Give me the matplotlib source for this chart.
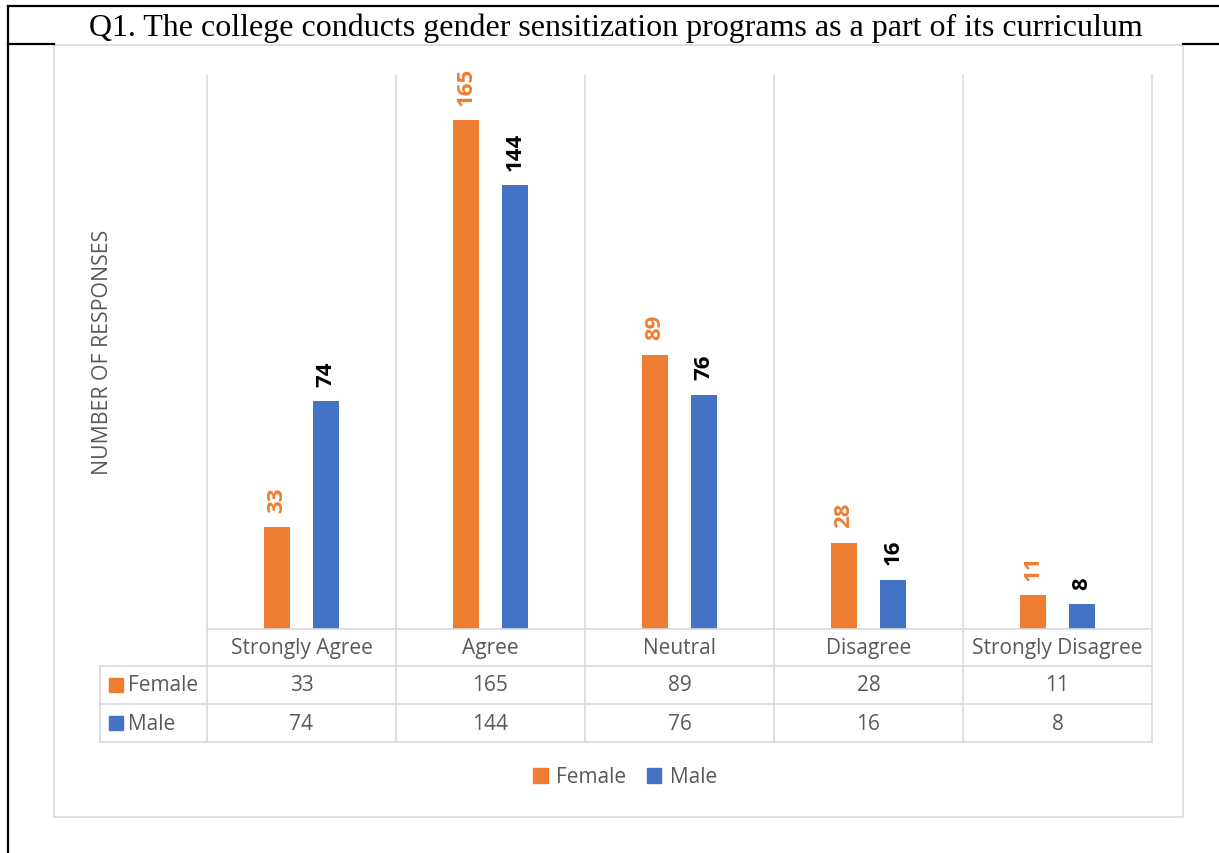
import matplotlib
matplotlib.use('Agg')
import matplotlib.pyplot as plt
from matplotlib.lines import Line2D
from matplotlib.patches import Rectangle, Patch
from matplotlib.transforms import blended_transform_factory
import numpy as np

# --- data ---
categories = ['Strongly Agree', 'Agree', 'Neutral', 'Disagree', 'Strongly Disagree']
series_names = ['Female', 'Male']
female = [33, 165, 89, 28, 11]
male = [74, 144, 76, 16, 8]
title = 'Q1. The college conducts gender sensitization programs as a part of its curriculum'
y_label = 'NUMBER OF RESPONSES'

ORANGE = '#ED7D31'
BLUE = '#4472C4'
GRID = '#D9D9D9'
TEXT = '#595959'

W, H = 1219, 854
plt.rcParams['font.family'] = ['Open Sans', 'DejaVu Sans']

fig = plt.figure(figsize=(W / 100, H / 100), dpi=100)


def fx(px):
    return px / W


def fy(py):
    return 1 - py / H


# outer document frame (table cell lines)
for xs, ys in [((8, W), (7, 7)), ((8, 8), (7, H)), ((8, 54), (45, 45)), ((1183, W), (45, 45))]:
    fig.add_artist(Line2D([fx(v) for v in xs], [fy(v) for v in ys], color='black', lw=1.6))

fig.text(fx(616), fy(28), title, ha='center', va='center', fontsize=23,
         family=['Liberation Serif', 'DejaVu Serif'], color='black')

# chart border
fig.add_artist(Rectangle((fx(54), fy(818)), fx(1183) - fx(54), fy(46) - fy(818),
                         fill=False, edgecolor=GRID, lw=1.2))

# plot area
ax = fig.add_axes([fx(207), fy(630), fx(1152) - fx(207), fy(75) - fy(630)])
x = np.arange(len(categories))
bw = 0.137
off = 0.13
ax.bar(x - off, female, bw, color=ORANGE, zorder=3)
ax.bar(x + off, male, bw, color=BLUE, zorder=3)
ax.set_xlim(-0.5, len(categories) - 0.5)
ax.set_ylim(0, 180)
ax.axis('off')

for xi, v in zip(x, female):
    ax.annotate(str(v), (xi - off, v), xytext=(0, 11), textcoords='offset points',
                rotation=90, ha='center', va='bottom', fontsize=16, fontweight='bold', color=ORANGE)
for xi, v in zip(x, male):
    ax.annotate(str(v), (xi + off, v), xytext=(0, 11), textcoords='offset points',
                rotation=90, ha='center', va='bottom', fontsize=16, fontweight='bold', color='black')

fig.text(fx(103), fy(352), y_label, rotation=90, ha='center', va='center', fontsize=15.3, color=TEXT)

# data table below the plot
tr = blended_transform_factory(ax.transData, fig.transFigure)
row_y = [630, 667, 705, 743]
for b in np.arange(-0.5, len(categories), 1.0):
    fig.add_artist(Line2D([b, b], [fy(76), fy(743)], transform=tr, color=GRID, lw=1.2))
fig.add_artist(Line2D([fx(100), fx(100)], [fy(667), fy(743)], color=GRID, lw=1.2))
fig.add_artist(Line2D([fx(207), fx(1152)], [fy(630), fy(630)], color=GRID, lw=1.2))
for py in row_y[1:]:
    fig.add_artist(Line2D([fx(100), fx(1152)], [fy(py), fy(py)], color=GRID, lw=1.2))

fs = 15
for xi, c in zip(x, categories):
    fig.text(xi, fy(649), c, transform=tr, ha='center', va='center', fontsize=fs, color=TEXT)
for r, (name, vals, col) in enumerate(zip(series_names, [female, male], [ORANGE, BLUE])):
    yc = (row_y[r + 1] + row_y[r + 2]) / 2
    fig.add_artist(Rectangle((fx(109), fy(yc + 7)), fx(14), fy(0) - fy(14), color=col))
    fig.text(fx(128), fy(yc), name, ha='left', va='center', fontsize=fs, color=TEXT)
    for xi, v in zip(x, vals):
        fig.text(xi, fy(yc), str(v), transform=tr, ha='center', va='center', fontsize=fs, color=TEXT)

# legend
handles = [Patch(color=ORANGE, label='Female'), Patch(color=BLUE, label='Male')]
fig.legend(handles=handles, loc='center', bbox_to_anchor=(fx(625), fy(778)), ncol=2,
           frameon=False, fontsize=fs, handlelength=0.7, handleheight=0.7,
           handletextpad=0.4, columnspacing=1.0, labelcolor=TEXT)

fig.savefig('out.png', dpi=100, facecolor='white')
